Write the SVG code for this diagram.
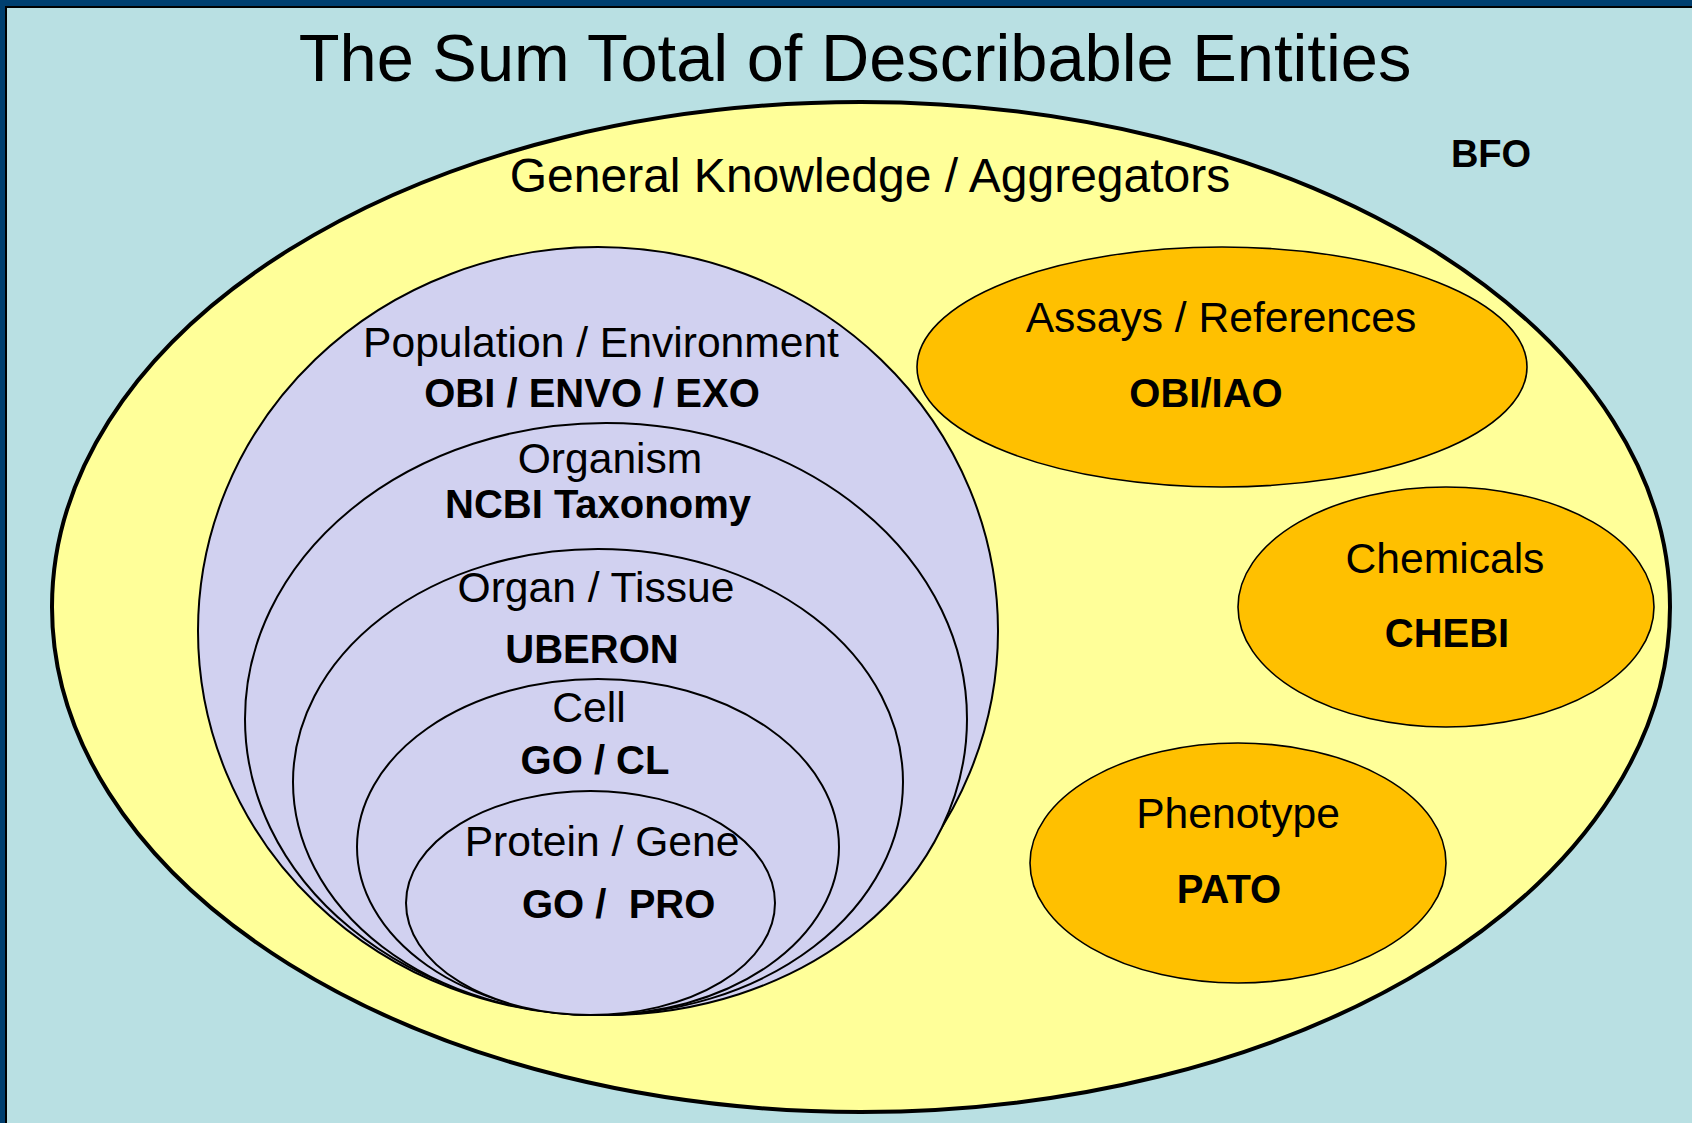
<svg xmlns="http://www.w3.org/2000/svg" width="1692" height="1123" viewBox="0 0 1692 1123">
<style>
.lbl{font-family:"Liberation Sans",Arial,sans-serif;font-size:42.6px;fill:#000;text-anchor:middle}
.bold{font-family:"Liberation Sans",Arial,sans-serif;font-size:40px;font-weight:bold;fill:#000;text-anchor:middle}
.purple{fill:#D1D1F0;stroke:#000;stroke-width:2}
.orange{fill:#FFC000;stroke:#000;stroke-width:1.6}
</style>
<rect x="0" y="0" width="1692" height="1123" fill="#003F6F"/>
<rect x="6" y="7" width="1700" height="1130" fill="#B9E0E3" stroke="#000" stroke-width="2"/>
<text x="855" y="81" font-family="Liberation Sans, Arial, sans-serif" font-size="66.8" text-anchor="middle" fill="#000">The Sum Total of Describable Entities</text>
<g id="general">
<ellipse cx="861" cy="607" rx="809" ry="505" fill="#FFFF99" stroke="#000" stroke-width="4"/>
<text class="lbl" x="870" y="192" style="font-size:48px">General Knowledge / Aggregators</text>
</g>
<text class="bold" x="1491" y="167" style="font-size:38px">BFO</text>
<g id="population">
<ellipse class="purple" cx="598" cy="631" rx="400" ry="384"/>
<text class="lbl" x="601" y="357">Population / Environment</text>
<text class="bold" x="592" y="407">OBI / ENVO / EXO</text>
</g>
<g id="organism">
<ellipse class="purple" cx="606" cy="719" rx="361" ry="296"/>
<text class="lbl" x="610" y="473">Organism</text>
<text class="bold" x="598" y="518">NCBI Taxonomy</text>
</g>
<g id="organ">
<ellipse class="purple" cx="598" cy="782" rx="305" ry="233"/>
<text class="lbl" x="596" y="602">Organ / Tissue</text>
<text class="bold" x="592" y="663">UBERON</text>
</g>
<g id="cell">
<ellipse class="purple" cx="598" cy="847" rx="241" ry="168"/>
<text class="lbl" x="589" y="722">Cell</text>
<text class="bold" x="595" y="774">GO / CL</text>
</g>
<g id="protein">
<ellipse class="purple" cx="590.5" cy="903" rx="184.5" ry="112"/>
<text class="lbl" x="602" y="856">Protein / Gene</text>
<text class="bold" x="522" y="918" style="text-anchor:start" xml:space="preserve">GO /  PRO</text>
</g>
<g id="assays">
<ellipse class="orange" cx="1222" cy="367" rx="305" ry="120"/>
<text class="lbl" x="1221" y="332">Assays / References</text>
<text class="bold" x="1206" y="407">OBI/IAO</text>
</g>
<g id="chemicals">
<ellipse class="orange" cx="1446" cy="607" rx="208" ry="120"/>
<text class="lbl" x="1445" y="573">Chemicals</text>
<text class="bold" x="1447" y="647">CHEBI</text>
</g>
<g id="phenotype">
<ellipse class="orange" cx="1238" cy="863" rx="208" ry="120"/>
<text class="lbl" x="1238" y="828">Phenotype</text>
<text class="bold" x="1229" y="903">PATO</text>
</g>
<g id="connectors"></g>
</svg>
